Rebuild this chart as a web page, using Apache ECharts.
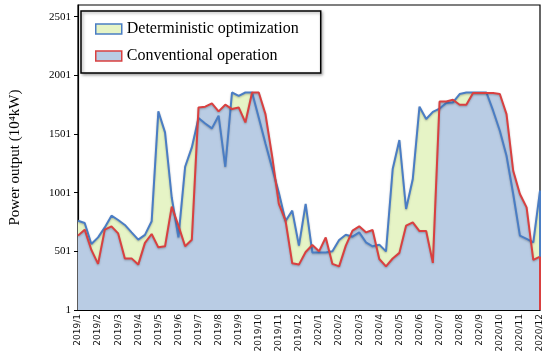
<!DOCTYPE html>
<html>
<head>
<meta charset="utf-8">
<script src="https://cdn.jsdelivr.net/npm/echarts@6/dist/echarts.min.js"></script>
<style>html,body{margin:0;padding:0;background:#fff;}#c{width:550px;height:362px;}</style>
</head>
<body>
<div id="c"></div>
<script>
// Month tick labels (one tick per month, 3 ten-day periods per month)
var monthLabels = ['2019/1','2019/2','2019/3','2019/4','2019/5','2019/6','2019/7','2019/8','2019/9','2019/10','2019/11','2019/12',
  '2020/1','2020/2','2020/3','2020/4','2020/5','2020/6','2020/7','2020/8','2020/9','2020/10','2020/11','2020/12'];
var yTickValues = [1, 501, 1001, 1501, 2001, 2501];

// Deterministic optimization (blue line, green fill)
var deterministic = [762,743,564,620,705,805,768,726,663,601,641,757,1694,1515,960,620,1222,1387,
  1637,1591,1549,1657,1222,1855,1827,1855,1855,1640,1420,1210,1000,760,848,550,905,
  492,492,492,501,598,643,626,663,578,544,558,501,1203,1450,862,1118,1734,1629,1690,
  1718,1766,1770,1842,1855,1855,1855,1855,1700,1529,1316,990,635,607,578,1018];
// Conventional operation (red line, light-blue fill)
var conventional = [635,686,513,394,686,714,654,441,441,388,573,649,535,544,882,720,544,600,
  1728,1734,1762,1694,1751,1714,1728,1600,1855,1855,1671,1310,905,762,399,388,495,
  555,501,620,394,373,550,677,714,663,683,436,373,440,488,720,748,674,674,403,
  1779,1779,1793,1751,1751,1850,1850,1850,1850,1842,1671,1188,990,876,428,456];

var categories = [];
for (var m = 0; m < monthLabels.length; m++) {
  var n = (m === monthLabels.length - 1) ? 1 : 3;
  for (var d = 0; d < n; d++) categories.push(monthLabels[m] + '#' + (d + 1));
}
var lastCat = categories[categories.length - 1];

var BLUE = '#4a7dc4', RED = '#d94040', GREEN_FILL = '#e6f4c6', BLUE_FILL = '#b9cce4';
var chart = echarts.init(document.getElementById('c'), null, {renderer: 'canvas'});
chart.setOption({
  animation: false,
  grid: {left: 77, right: 10, top: 5, bottom: 52, show: true, borderColor: '#000', borderWidth: 1.2, backgroundColor: 'transparent'},
  legend: {
    left: 81, top: 11, orient: 'vertical', icon: 'rect', itemWidth: 26, itemHeight: 10, itemGap: 11,
    padding: [10, 22, 9, 14], backgroundColor: '#fff', borderColor: '#000', borderWidth: 1.5,
    shadowColor: 'rgba(0,0,0,0.35)', shadowBlur: 3, shadowOffsetX: 1.5, shadowOffsetY: 1.5,
    textStyle: {fontFamily: 'Liberation Serif', fontSize: 16, color: '#000', lineHeight: 16},
    data: [
      {name: 'Deterministic optimization', itemStyle: {color: GREEN_FILL, borderColor: BLUE, borderWidth: 1.5}},
      {name: 'Conventional operation', itemStyle: {color: BLUE_FILL, borderColor: RED, borderWidth: 1.5}}
    ]
  },
  xAxis: {
    type: 'category', data: categories, boundaryGap: false,
    axisLine: {lineStyle: {color: '#000', width: 1.2}},
    axisTick: {inside: true, length: 4, interval: 2, lineStyle: {color: '#000'}},
    axisLabel: {interval: 2, rotate: 90, margin: 4, fontFamily: 'DejaVu Sans', fontSize: 9, color: '#111',
      formatter: function (v) { return v.split('#')[0]; }},
    splitLine: {show: false}
  },
  yAxis: {
    type: 'value', min: 1, max: 2601,
    name: 'Power output (10\u2074kW)', nameLocation: 'middle', nameGap: 55,
    nameTextStyle: {fontFamily: 'Liberation Serif', fontSize: 15, color: '#000'},
    axisLine: {show: true, lineStyle: {color: '#000', width: 1.2}},
    axisTick: {show: true, length: 4, customValues: yTickValues, lineStyle: {color: '#000'}},
    axisLabel: {customValues: yTickValues, margin: 7, fontFamily: 'Liberation Serif', fontSize: 11, color: '#000',
      formatter: function (v) { return String(v); }},
    splitLine: {show: false}
  },
  series: [
    {name: 'Deterministic optimization', type: 'line', data: deterministic, symbol: 'none',
      lineStyle: {width: 0, opacity: 0}, areaStyle: {color: GREEN_FILL, opacity: 1}, z: 1},
    {name: 'Conventional operation', type: 'line', data: conventional, symbol: 'none',
      lineStyle: {width: 0, opacity: 0}, areaStyle: {color: BLUE_FILL, opacity: 1}, z: 2},
    {name: 'detLine', type: 'line', data: deterministic, symbol: 'none', z: 3,
      lineStyle: {color: BLUE, width: 2, shadowColor: 'rgba(0,0,0,0.25)', shadowBlur: 2, shadowOffsetY: 1},
      markLine: {silent: true, symbol: 'none', label: {show: false}, lineStyle: {color: BLUE, width: 2, type: 'solid'},
        data: [[{coord: [lastCat, deterministic[deterministic.length - 1]]}, {coord: [lastCat, conventional[conventional.length - 1]]}]]}},
    {name: 'convLine', type: 'line', data: conventional, symbol: 'none', z: 4,
      lineStyle: {color: RED, width: 2, shadowColor: 'rgba(0,0,0,0.25)', shadowBlur: 2, shadowOffsetY: 1},
      markLine: {silent: true, symbol: 'none', label: {show: false}, lineStyle: {color: RED, width: 2, type: 'solid'},
        data: [[{coord: [lastCat, conventional[conventional.length - 1]]}, {coord: [lastCat, 1]}]]}}
  ]
});
</script>
</body>
</html>
